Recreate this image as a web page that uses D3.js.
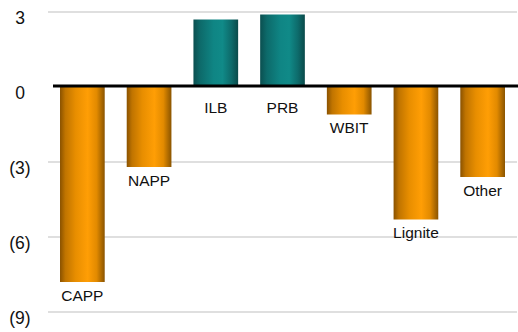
<!DOCTYPE html>
<html>
<head>
<meta charset="utf-8">
<script src="https://cdn.jsdelivr.net/npm/d3@7"></script>
<style>
  html, body { margin: 0; padding: 0; background: #ffffff; }
  svg { display: block; font-family: "Liberation Sans", Arial, sans-serif; }
</style>
</head>
<body>
<svg id="chart" width="518" height="332"></svg>
<script>
// Change by coal basin
const categories = ["CAPP", "NAPP", "ILB", "PRB", "WBIT", "Lignite", "Other"];
const values = [-7.8, -3.2, 2.7, 2.9, -1.1, -5.3, -3.6];
const tickValues = [3, 0, -3, -6, -9];
const tickLabels = ["3", "0", "(3)", "(6)", "(9)"];

const svg = d3.select("#chart");

const y = d3.scaleLinear().domain([-9, 3]).range([312, 12]);
const x = d3.scaleBand()
  .domain(categories)
  .range([49, 516])
  .paddingInner(0.33)
  .paddingOuter(0.165);

// Horizontal gradients giving the bars a rounded, cylinder-like shading
const defs = svg.append("defs");
function cylinder(id, stops) {
  const g = defs.append("linearGradient").attr("id", id)
    .attr("x1", "0%").attr("x2", "100%").attr("y1", "0%").attr("y2", "0%");
  stops.forEach(([o, c]) => g.append("stop").attr("offset", o).attr("stop-color", c));
}
cylinder("gradOrange", [
  ["0%", "#8a5200"], ["12%", "#c07400"], ["35%", "#e88e00"],
  ["62%", "#ff9e05"], ["82%", "#e28a00"], ["100%", "#8a5400"]
]);
cylinder("gradTeal", [
  ["0%", "#0b4f50"], ["15%", "#0d6a6a"], ["45%", "#0f8584"],
  ["65%", "#108a88"], ["85%", "#0d6a6a"], ["100%", "#0a4a4a"]
]);

// Gridlines
svg.append("g")
  .selectAll("line")
  .data(tickValues.filter(v => v !== 0))
  .join("line")
  .attr("x1", 48).attr("x2", 517)
  .attr("y1", d => y(d)).attr("y2", d => y(d))
  .attr("stroke", "#d4d4d4").attr("stroke-width", 1.5);

// Axis tick labels
svg.append("g")
  .selectAll("text")
  .data(tickValues)
  .join("text")
  .attr("x", 20)
  .attr("y", d => y(d) + 12)
  .attr("text-anchor", "middle")
  .attr("font-size", 17.5)
  .attr("fill", "#111")
  .text((d, i) => tickLabels[i]);

// Bars
svg.append("g")
  .selectAll("rect")
  .data(categories)
  .join("rect")
  .attr("x", d => x(d))
  .attr("width", x.bandwidth())
  .attr("y", (d, i) => Math.min(y(values[i]), y(0)))
  .attr("height", (d, i) => Math.abs(y(values[i]) - y(0)))
  .attr("fill", (d, i) => values[i] >= 0 ? "url(#gradTeal)" : "url(#gradOrange)");

// Zero baseline
svg.append("line")
  .attr("x1", 53).attr("x2", 518)
  .attr("y1", y(0) - 1).attr("y2", y(0) - 1)
  .attr("stroke", "#000").attr("stroke-width", 3);

// Category labels: under the bar end for negatives, under the baseline for positives
svg.append("g")
  .selectAll("text")
  .data(categories)
  .join("text")
  .attr("x", d => x(d) + x.bandwidth() / 2)
  .attr("y", (d, i) => values[i] >= 0 ? y(0) + 26 : y(values[i]) + 18.5)
  .attr("text-anchor", "middle")
  .attr("font-size", 15.5)
  .attr("fill", "#111")
  .text(d => d);
</script>
</body>
</html>
